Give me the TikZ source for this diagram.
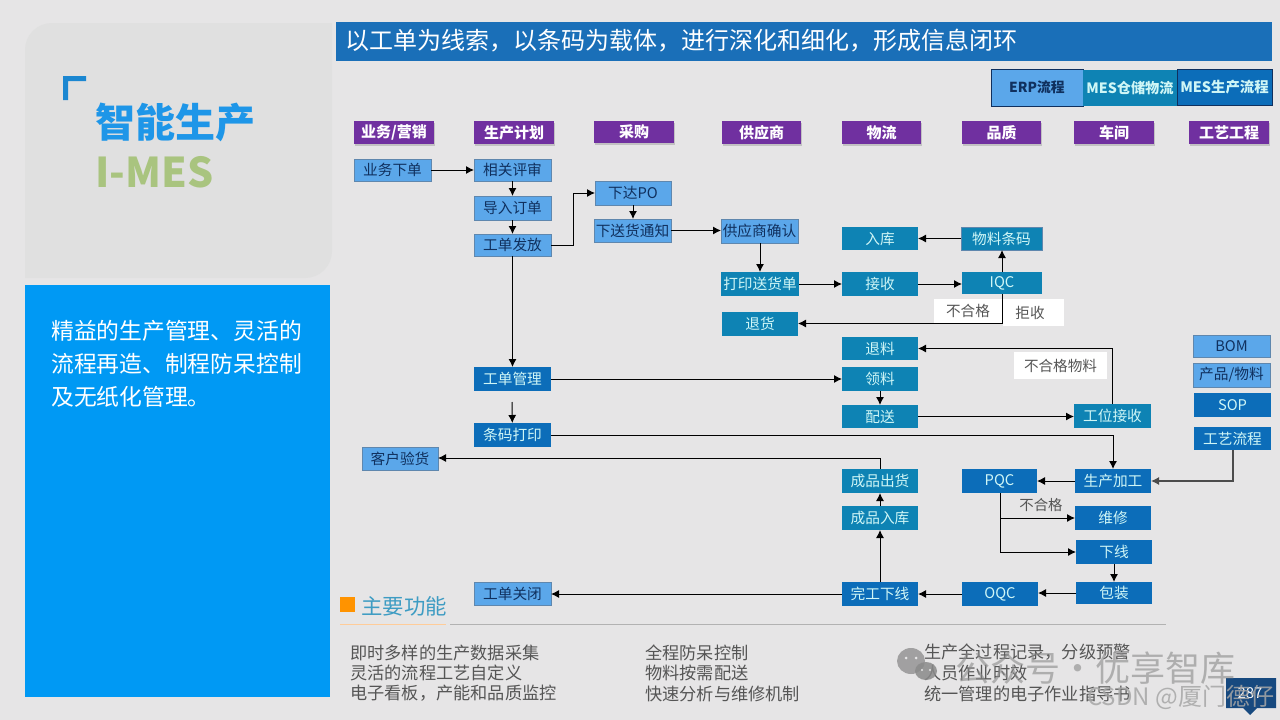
\documentclass[tikz,border=0pt]{standalone}
\usepackage{fontspec}
\setmainfont{Noto Sans CJK SC}
\usetikzlibrary{arrows.meta,shadows,calc}
\definecolor{pagebg}{HTML}{E6E5E6}
\definecolor{panelgray}{HTML}{E0E0E0}
\definecolor{skyblue}{HTML}{0099F4}
\definecolor{barblue}{HTML}{1A6FB8}
\definecolor{titleblue}{HTML}{1E96E8}
\definecolor{mesgreen}{HTML}{A9C47F}
\definecolor{headpurple}{HTML}{7030A0}
\definecolor{lightbox}{HTML}{5BA7EA}
\definecolor{lightedge}{HTML}{5F87AE}
\definecolor{navytext}{HTML}{10305E}
\definecolor{tealbox}{HTML}{0E83B4}
\definecolor{bluebox}{HTML}{0C6DB9}
\definecolor{paletext}{HTML}{CFF6F6}
\definecolor{graytext}{HTML}{555555}
\definecolor{wmgray}{HTML}{8A8A8A}
\definecolor{badgeblue}{HTML}{17497F}
\tikzset{
  x=1pt,y=-1pt,
  base/.style={inner sep=0pt,outer sep=0pt,font=\fontsize{14.7}{15}\selectfont,anchor=center},
  headbox/.style={base,fill=headpurple,text=white,font=\fontsize{15}{15}\selectfont\bfseries,drop shadow={shadow xshift=1pt,shadow yshift=-1.5pt,opacity=.35}},
  erpbox/.style={base,fill=lightbox,draw=lightedge,line width=.6pt,text=navytext},
  logbox/.style={base,fill=tealbox,text=paletext},
  mesbox/.style={base,fill=bluebox,text=paletext},
  notebox/.style={base,fill=white,text=graytext,font=\fontsize{14.6}{15}\selectfont},
  flow/.style={draw=black,line width=1pt,-{Latex[length=8pt,width=8pt]}},
  listtext/.style={inner sep=0pt,anchor=west,text=graytext,font=\fontsize{17.2}{18}\selectfont},
  wm/.style={inner sep=0pt,anchor=west,text=wmgray,text opacity=.6}
}
\newcommand{\bx}[7]{\node[#2,minimum width=#5pt-#3pt,minimum height=#6pt-#4pt] (#1) at ({(#3+#5)/2},{(#4+#6)/2}) {\raisebox{-0.8pt}{#7}};}
\begin{document}
\begin{tikzpicture}
\useasboundingbox (0,0) rectangle (1280,720);
\fill[pagebg] (0,0) rectangle (1280,720);
% left panels
\fill[panelgray] (25,50) .. controls (25,35) and (37,23) .. (52,23) -- (332,23) -- (332,251) .. controls (332,266) and (320,278) .. (305,278) -- (25,278) -- cycle;
\fill[skyblue] (25,285) rectangle (330,697);
\fill[titleblue!90!black] (63,76) -- (86,76) -- (86,81) -- (68,81) -- (68,100) -- (63,100) -- cycle;
\node[inner sep=0pt,anchor=west,text=titleblue,font=\fontsize{40}{41}\selectfont\bfseries] (brand) at (95,122.5) {智能生产};
\node[inner sep=0pt,anchor=west,text=mesgreen,font=\fontsize{41}{42}\selectfont\bfseries] (imes) at (95,172) {I-MES};
\node[inner sep=0pt,anchor=west,text=white,font=\fontsize{22.8}{33}\selectfont,align=left] (intro) at (51,364) {精益的生产管理、灵活的\\流程再造、制程防呆控制\\及无纸化管理。};
% title bar
\fill[barblue] (336,22) rectangle (1272,61);
\node[inner sep=0pt,anchor=west,text=white,font=\fontsize{24}{25}\selectfont] (slogan) at (345,41) {以工单为线索，以条码为载体，进行深化和细化，形成信息闭环};
% legend
\node[base,fill=lightbox,draw=navytext,line width=.8pt,text=navytext,font=\fontsize{13.8}{14}\selectfont\bfseries,minimum width=92pt,minimum height=37pt] (lgerp) at (1037,87.5) {ERP流程};
\bx{lgwms}{base,fill=tealbox,text=paletext,font=\fontsize{14.2}{15}\selectfont\bfseries}{1083}{70}{1177}{106}{MES仓储物流}
\node[base,fill=bluebox,draw=navytext,line width=.8pt,text=paletext,font=\fontsize{14.4}{15}\selectfont\bfseries,minimum width=95pt,minimum height=36pt] (lgmes) at (1224.5,87) {MES生产流程};
% column headers
\bx{h1}{headbox}{354}{121}{434}{144}{业务/营销}
\bx{h2}{headbox}{474}{121}{554}{144}{生产计划}
\bx{h3}{headbox}{594}{121}{674}{143}{采购}
\bx{h4}{headbox}{722}{121}{801}{144}{供应商}
\bx{h5}{headbox}{842}{121}{921}{144}{物流}
\bx{h6}{headbox}{962}{121}{1041}{144}{品质}
\bx{h7}{headbox}{1074}{121}{1154}{144}{车间}
\bx{h8}{headbox}{1189}{121}{1269}{144}{工艺工程}
% ERP boxes
\bx{yw}{erpbox}{354}{159}{431}{181}{业务下单}
\bx{xg}{erpbox}{474}{159}{551}{181}{相关评审}
\bx{dr}{erpbox}{474}{196}{551}{220}{导入订单}
\bx{gf}{erpbox}{474}{234}{551}{256}{工单发放}
\bx{po}{erpbox}{595}{181}{671}{205}{下达PO}
\bx{xs}{erpbox}{594}{219}{671}{242}{下送货通知}
\bx{qr}{erpbox}{721}{219}{798}{243}{供应商确认}
\bx{kh}{erpbox}{362}{447}{438}{470}{客户验货}
\bx{gb}{erpbox}{474}{582}{551}{605}{工单关闭}
\bx{bom}{erpbox}{1193}{335}{1270}{357}{BOM}
\bx{cp}{erpbox}{1193}{363}{1270}{387}{产品/物料}
% logistics boxes
\bx{dy}{logbox}{721}{272}{799}{296}{打印送货单}
\bx{th}{logbox}{722}{312}{798}{336}{退货}
\bx{rk}{logbox}{842}{227}{918}{250}{入库}
\bx{tm}{logbox,draw=lightedge,line width=.6pt}{961}{227}{1042}{250}{物料条码}
\bx{js}{logbox}{842}{272}{918}{296}{接收}
\bx{iqc}{logbox}{962}{272}{1042}{294}{IQC}
\bx{tl}{logbox}{842}{337}{918}{360}{退料}
\bx{ll}{logbox}{842}{367}{918}{391}{领料}
\bx{ps}{logbox}{842}{405}{918}{428}{配送}
\bx{gw}{logbox}{1074}{404}{1151}{428}{工位接收}
\bx{cc}{logbox}{842}{469}{918}{493}{成品出货}
\bx{cr}{logbox}{842}{506}{918}{530}{成品入库}
% MES boxes
\bx{gd}{mesbox}{474}{367}{551}{391}{工单管理}
\bx{dm}{mesbox}{474}{423}{551}{447}{条码打印}
\bx{sop}{mesbox}{1194}{393}{1271}{417}{SOP}
\bx{gy}{mesbox}{1194}{427}{1271}{450}{工艺流程}
\bx{sc}{mesbox}{1075}{469}{1151}{493}{生产加工}
\bx{pqc}{mesbox}{962}{469}{1037}{493}{PQC}
\bx{wx}{mesbox}{1075}{506}{1151}{530}{维修}
\bx{xx}{mesbox}{1076}{540}{1152}{564}{下线}
\bx{bz}{mesbox}{1076}{582}{1152}{604}{包装}
\bx{oqc}{mesbox}{962}{582}{1038}{606}{OQC}
\bx{wg}{mesbox}{842}{582}{918}{606}{完工下线}
% white notes
\bx{n1}{notebox}{934}{299}{1002}{323.5}{不合格}
\bx{n2}{notebox}{1003}{299}{1064}{326}{\hspace{-7pt}拒收}
\bx{n3}{notebox}{1014}{352}{1107}{379}{不合格物料}
\node[inner sep=0pt,text=graytext,font=\fontsize{14.4}{15}\selectfont] (n4) at (1041,505.5) {不合格};
% connectors
\draw[flow] (yw) -- (xg);
\draw[flow] (xg) -- (dr);
\draw[flow] (dr) -- (gf);
\draw[flow] (gf.east) -- (573,245) |- (po.west);
\draw[flow] (po.south -| 633,0) -- (xs.north -| 633,0);
\draw[flow] (xs) -- (qr.west |- xs);
\draw[flow] (qr.south -| 760,0) -- (dy.north -| 760,0);
\draw[flow] (dy) -- (js);
\draw[flow] (js) -- (iqc.west |- js);
\draw[flow] (iqc.north -| 1002,0) -- (tm.south -| 1002,0);
\draw[flow] (tm) -- (rk);
\draw[flow] (1002,294) -- (1002,323.5) -- (th.east |- 0,323.5);
\draw[flow] (gf) -- (gd);
\draw[flow] (gd) -- (ll.west |- gd);
\coordinate (gap) at (512,402);
\draw[flow] (gap) -- (dm);
\draw[flow] (ll) -- (ps);
\draw[flow] (ps) -- (gw.west |- ps);
\draw[flow] (gw.north) |- (tl.east);
\draw[flow] (dm.east) -| (sc.north);
\draw[flow] (cc.north) -- (880,458) -- (kh.east |- 0,458);
\draw[flow] (cr) -- (cc);
\draw[flow] (wg) -- (cr);
\draw[flow] (wg.west) -- (gb.east |- wg.west);
\draw[flow] (oqc) -- (wg);
\draw[flow] (bz) -- (oqc.east |- bz);
\draw[flow] (xx) -- (bz);
\draw[flow] (sc) -- (pqc);
\draw[flow,draw=black!70,line width=1.2pt] (gy.south -| 1233,0) |- (sc.east);
\draw[flow] (1000,493) |- (xx.west);
\draw[flow] (1000,518) -- (wx.west);
% main functions
\fill[orange!85!yellow] (340,597) rectangle (355,612);
\node[inner sep=0pt,anchor=west,text=tealbox!80!white,font=\fontsize{21.4}{22}\selectfont] (mf) at (361,606.5) {主要功能};
\draw[orange!40!white,line width=1pt] (340,624) -- (446,624);
\draw[black!30,line width=1pt] (450,624) -- (1166,624);
\node[listtext] (a1) at (350,652.5) {即时多样的生产数据采集};
\node[listtext] (a2) at (350,673) {灵活的流程工艺自定义};
\node[listtext] (a3) at (350,693.5) {电子看板，产能和品质监控};
\node[listtext] (b1) at (645,652.5) {全程防呆控制};
\node[listtext] (b2) at (645,673) {物料按需配送};
\node[listtext] (b3) at (645,693.5) {快速分析与维修机制};
\node[listtext] (c1) at (924,652.5) {生产全过程记录，分级预警};
\node[listtext] (c2) at (924,673) {人员作业时效};
\node[listtext] (c3) at (924,693.5) {统一管理的电子作业指导书};
% page badge
\fill[badgeblue] (1226,678) -- (1276,678) -- (1276,708) -- (1257,708) -- (1250,715) -- (1243,708) -- (1226,708) -- cycle;
\node[inner sep=0pt,text=white,font=\fontsize{15}{16}\selectfont] (pg) at (1250,693) {287};
% watermark
\fill[wmgray,opacity=.75] (911,661) ellipse[x radius=14,y radius=13];
\fill[wmgray,opacity=.85] (926,671) ellipse[x radius=11,y radius=9];
\fill[pagebg] (906,658) circle[radius=1.5] (916,658) circle[radius=1.5] (922,670) circle[radius=1.2] (930,670) circle[radius=1.2];
\node[wm,font=\fontsize{35}{36}\selectfont] (wm1) at (955,668) {公众号·优享智库};
\node[wm,text=black!35,text opacity=.85,font=\fontsize{24}{25}\selectfont] (wm2) at (1087,697) {CSDN @厦门德仔};
\end{tikzpicture}
\end{document}
